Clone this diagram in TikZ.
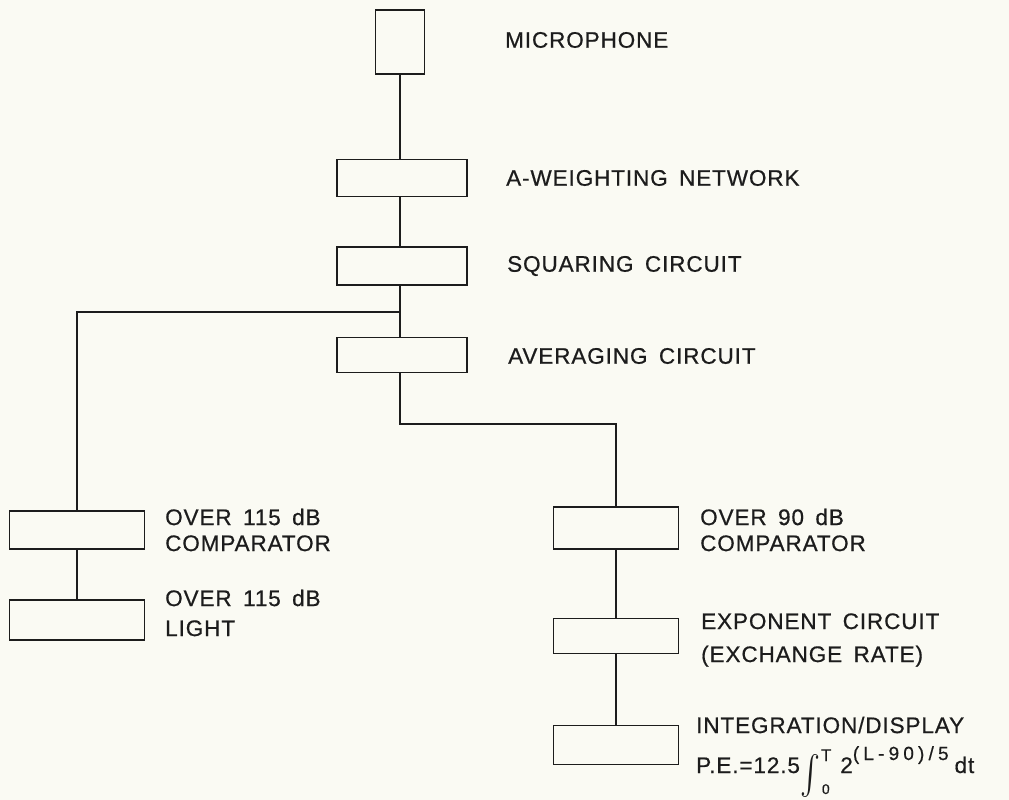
\documentclass[tikz,border=0pt]{standalone}
\usepackage{fontspec}
\setmainfont[LetterSpace=4, WordSpace=1.6, FakeBold=0.6]{Liberation Sans}
\usepackage{amsmath}
\usetikzlibrary{positioning}
\definecolor{paper}{RGB}{250,250,243}
\definecolor{ink}{RGB}{28,28,28}

\begin{document}
\begin{tikzpicture}[x=1pt, y=-1pt,
    block/.style={rectangle, draw=ink, line width=1.8pt,
                  minimum width=130pt, minimum height=37pt,
                  inner sep=0pt},
    lbl/.style={anchor=west, align=left, inner sep=0pt, text=ink,
                font=\fontsize{22.5}{25}\selectfont},
    wire/.style={draw=ink, line width=1.8pt},
]
\fill[paper] (0,0) rectangle (1009,800);
\useasboundingbox (0,0) rectangle (1009,800);

% ==========================================================
% Main column: microphone to averaging circuit
% ==========================================================
\node[block, minimum width=49pt, minimum height=64pt] (mic) at (400,42) {};
\node[block] (aweight) at (402,178) {};
\node[block, minimum height=38pt] (square) at (402,266) {};
\node[block, minimum height=35pt] (average) at (402,355) {};

\node[lbl] (micT) at (505,40) {MICROPHONE};
\node[lbl] (aweightT) at (506,178) {A-WEIGHTING NETWORK};
\node[lbl] (squareT) at (507,266) {SQUARING CIRCUIT};
\node[lbl] (averageT) at (508,356) {AVERAGING CIRCUIT};

\draw[wire] (mic) -- (mic |- aweight.north);
\draw[wire] (aweight.south -| mic) -- (mic |- square.north);
\draw[wire] (square.south -| mic) -- (mic |- average.north);

% -------- left branch: 115 dB comparator and light -----------
\coordinate (tap) at (400,312);
\node[block, minimum width=135pt, minimum height=38pt] (cmpHigh) at (77,530) {};
\node[block, minimum width=135pt, minimum height=40pt] (lampHigh) at (77,620) {};

\node[lbl] (cmpHighT) at (165,530) {OVER 115 dB\\[1pt]COMPARATOR};
\node[lbl] (lampHighT) at (165,613) {OVER 115 dB\\[5pt]LIGHT};

\draw[wire] (tap) -| (cmpHigh);
\draw[wire] (cmpHigh) -- (lampHigh);

% -------- right branch: 90 dB comparator to display -----------
\coordinate (bend) at (616,424);
\node[block, minimum width=125pt, minimum height=42pt] (cmpLow) at (616,528) {};
\node[block, minimum width=125pt, minimum height=35pt] (expo) at (616,636) {};
\node[block, minimum width=125pt, minimum height=39pt] (integ) at (616,745) {};

\node[lbl] (cmpLowT) at (700,530) {OVER 90 dB\\[1pt]COMPARATOR};
\node[lbl] (expoT) at (701,640) {EXPONENT CIRCUIT\\[8pt](EXCHANGE RATE)};
\node[lbl] (integT) at (696,725) {INTEGRATION/DISPLAY};
\node[lbl, anchor=base west] (formula) at (696,773)
    {P.E.=12.5\hspace{1pt}\raisebox{-24pt}[0pt][0pt]{\raisebox{\depth}{\resizebox*{20pt}{43pt}{$\int$}}}%
     \rlap{\hspace{1pt}\raisebox{-21pt}[0pt][0pt]{\fontsize{14}{14}\selectfont 0}}%
     \raisebox{12pt}[0pt][0pt]{\fontsize{17}{17}\selectfont T}\hspace{9pt}2%
     \raisebox{13pt}{\fontsize{19}{19}\selectfont\addfontfeatures{LetterSpace=22}(L-90)/5}\hspace{6pt}dt};

\draw[wire] (average.south -| mic) |- (bend) -- (cmpLow);
\draw[wire] (cmpLow) -- (expo);
\draw[wire] (expo) -- (integ);

\end{tikzpicture}
\end{document}
